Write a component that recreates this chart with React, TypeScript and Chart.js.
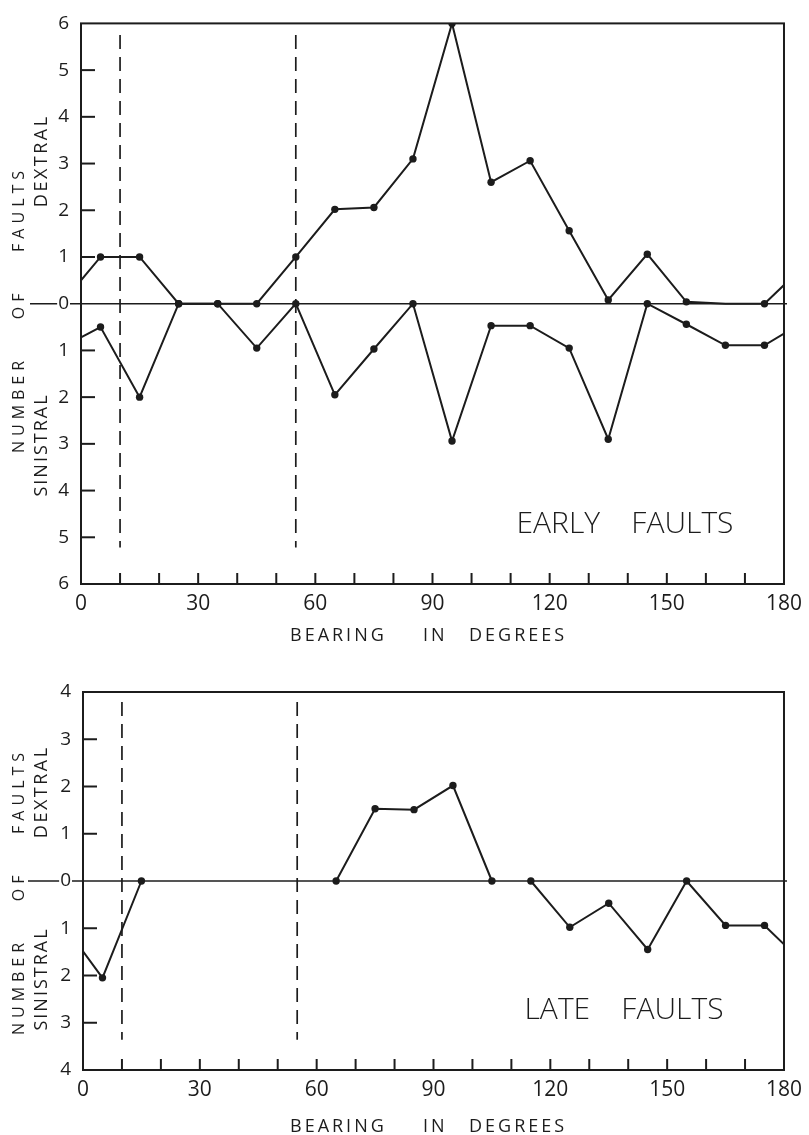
import React, { useEffect, useRef } from "react";
import { Chart, registerables } from "chart.js";

Chart.register(...registerables);

// ---- data ----
const bearings = [0, 5, 15, 25, 35, 45, 55, 65, 75, 85, 95, 105, 115, 125, 135, 145, 155, 165, 175, 180];

// Early faults: dextral (positive) and sinistral (negative, drawn downward)
const earlyDextral = [0.5, 1, 1, 0, 0, 0, 1, 2.02, 2.06, 3.1, 6, 2.6, 3.06, 1.56, 0.08, 1.06, 0.04, 0, 0, 0.4];
const earlySinistral = [-0.72, -0.5, -2, 0, 0, -0.95, 0, -1.95, -0.97, 0, -2.94, -0.47, -0.47, -0.95, -2.9, 0, -0.44, -0.89, -0.89, -0.64];

// Late faults
const lateDextral = [null, null, null, null, null, null, null, 0, 1.53, 1.51, 2.02, 0, null, null, null, null, null, null, null, null];
const lateSinistral = [-1.49, -2.05, 0, null, null, null, null, null, null, null, null, null, 0, -0.98, -0.47, -1.45, 0, -0.94, -0.94, -1.34];

// dashed guide bearings and their vertical extents (in axis units)
const guideBearings = [10, 55];
const earlyGuideSpan = [5.75, -5.22];
const lateGuideSpan = [3.79, -3.36];

const earlyYMax = 6;
const lateYMax = 4;
const xTickLabels = [0, 30, 60, 90, 120, 150, 180];
const xTitleWords = ["BEARING", "IN", "DEGREES"];

// ---- style ----
const FONT = '"Open Sans", "DejaVu Sans", sans-serif';
const INK = "#1c1c1c";
const Y_TICK_SIZE = 19;
const Y_TICK_PAD = 12;
const X_TICK_SIZE = 21;
const X_TITLE_LEFTS = [290, 423, 469];

type PanelCfg = {
  top: number;
  height: number;
  area: { left: number; right: number; top: number; bottom: number };
  yMax: number;
  dextral: (number | null)[];
  sinistral: (number | null)[];
  guideSpan: number[];
  noDotDextral: number[];
  caption: string;
  captionPos: [number, number];
  titleY: number;
  numberY: number;
  dextralY: number;
  sinistralY: number;
  zeroExtStart: number;
};

function drawRotated(ctx: CanvasRenderingContext2D, text: string, x: number, y: number, font: string, spacing: number) {
  ctx.save();
  ctx.translate(x, y);
  ctx.rotate(-Math.PI / 2);
  ctx.font = font;
  (ctx as any).letterSpacing = spacing + "px";
  ctx.textAlign = "center";
  ctx.textBaseline = "middle";
  ctx.fillText(text, spacing / 2, 0);
  ctx.restore();
}

function makeDecor(cfg: PanelCfg) {
  return {
    id: "faultDecor",
    beforeDatasetsDraw(chart: any) {
      const { ctx, chartArea: a, scales } = chart;
      const xs = scales.x;
      const ys = scales.y;
      ctx.save();
      ctx.strokeStyle = INK;
      ctx.lineCap = "butt";
      // zero line
      const y0 = ys.getPixelForValue(0);
      ctx.lineWidth = 1.6;
      ctx.beginPath();
      ctx.moveTo(a.left, y0);
      ctx.lineTo(a.right + 3, y0);
      ctx.stroke();
      ctx.font = `${Y_TICK_SIZE}px ${FONT}`;
      const w = ctx.measureText("0").width;
      const labelRight = a.left - Y_TICK_PAD;
      ctx.beginPath();
      ctx.moveTo(cfg.zeroExtStart, y0);
      ctx.lineTo(labelRight - w - 1, y0);
      ctx.moveTo(labelRight + 1, y0);
      ctx.lineTo(a.left, y0);
      ctx.stroke();
      // frame
      ctx.lineWidth = 2;
      ctx.strokeRect(a.left, a.top, a.right - a.left, a.bottom - a.top);
      // inward ticks, y
      ys.ticks.forEach((t: any) => {
        if (Math.abs(t.value) === cfg.yMax || t.value === 0) return;
        const p = ys.getPixelForValue(t.value);
        ctx.beginPath();
        ctx.moveTo(a.left, p);
        ctx.lineTo(a.left + 14, p);
        ctx.stroke();
      });
      // inward ticks, x
      xs.ticks.forEach((t: any) => {
        if (t.value === 0 || t.value === 180) return;
        const p = xs.getPixelForValue(t.value);
        ctx.beginPath();
        ctx.moveTo(p, a.bottom);
        ctx.lineTo(p, a.bottom - 11);
        ctx.stroke();
      });
      ctx.restore();
    },
    afterDraw(chart: any) {
      const { ctx } = chart;
      ctx.save();
      ctx.fillStyle = INK;
      // x title
      ctx.font = `18px ${FONT}`;
      (ctx as any).letterSpacing = "3px";
      ctx.textAlign = "left";
      ctx.textBaseline = "middle";
      xTitleWords.forEach((word, i) => ctx.fillText(word, X_TITLE_LEFTS[i], cfg.titleY));
      // caption
      ctx.font = `300 30px ${FONT}`;
      (ctx as any).letterSpacing = "0px";
      ctx.textAlign = "center";
      ctx.fillText(cfg.caption, cfg.captionPos[0], cfg.captionPos[1]);
      ctx.restore();
      // y titles
      ctx.save();
      ctx.fillStyle = INK;
      drawRotated(ctx, "NUMBER    OF    FAULTS", 19, cfg.numberY, `16px ${FONT}`, 5);
      drawRotated(ctx, "DEXTRAL", 42, cfg.dextralY, `18px ${FONT}`, 2.5);
      drawRotated(ctx, "SINISTRAL", 42, cfg.sinistralY, `18px ${FONT}`, 2);
      ctx.restore();
    },
  };
}

function Panel({ cfg }: { cfg: PanelCfg }) {
  const ref = useRef<HTMLCanvasElement | null>(null);
  useEffect(() => {
    if (!ref.current) return;
    const dotRadius = (series: (number | null)[], noDot: number[]) => (c: any) => {
      const b = bearings[c.dataIndex];
      if (b === 0 || b === 180 || noDot.includes(b) || series[c.dataIndex] === null) return 0;
      return 3.7;
    };
    const lineDs = (series: (number | null)[], noDot: number[]) => ({
      data: bearings.map((b, i) => ({ x: b, y: series[i] })),
      borderColor: INK,
      borderWidth: 2,
      pointBackgroundColor: INK,
      pointBorderColor: INK,
      pointBorderWidth: 0,
      pointRadius: dotRadius(series, noDot),
      tension: 0,
      spanGaps: false,
    });
    const guides = guideBearings.map((g) => ({
      data: cfg.guideSpan.map((v) => ({ x: g, y: v })),
      borderColor: INK,
      borderWidth: 1.7,
      borderDash: [14, 8],
      pointRadius: 0,
    }));
    const chart = new Chart(ref.current, {
      type: "line",
      data: {
        datasets: [...guides, lineDs(cfg.sinistral, []), lineDs(cfg.dextral, cfg.noDotDextral)] as any,
      },
      options: {
        animation: false,
        responsive: false,
        devicePixelRatio: 1,
        layout: {
          padding: {
            left: 0,
            top: cfg.area.top,
            right: 809 - cfg.area.right,
            bottom: 0,
          },
        },
        plugins: { legend: { display: false }, tooltip: { enabled: false } },
        scales: {
          x: {
            type: "linear",
            min: 0,
            max: 180,
            grid: { display: false, drawTicks: false },
            border: { display: false },
            ticks: {
              stepSize: 10,
              autoSkip: false,
              maxRotation: 0,
              padding: 7,
              color: INK,
              font: { family: FONT, size: X_TICK_SIZE },
              callback: (v: any) => (xTickLabels.includes(Number(v)) ? String(v) : ""),
            },
            afterFit: (s: any) => {
              s.height = cfg.height - cfg.area.bottom;
            },
          },
          y: {
            min: -cfg.yMax,
            max: cfg.yMax,
            grid: { display: false, drawTicks: false },
            border: { display: false },
            ticks: {
              stepSize: 1,
              padding: Y_TICK_PAD,
              color: INK,
              font: { family: FONT, size: Y_TICK_SIZE },
              callback: (v: any) => String(Math.abs(Number(v))),
            },
            afterFit: (s: any) => {
              s.width = cfg.area.left;
            },
          },
        },
      },
      plugins: [makeDecor(cfg)],
    } as any);
    return () => chart.destroy();
  }, [cfg]);
  return (
    <div style={{ position: "absolute", left: 0, top: cfg.top, width: 809, height: cfg.height }}>
      <canvas ref={ref} width={809} height={cfg.height} style={{ display: "block" }} />
    </div>
  );
}

const earlyCfg: PanelCfg = {
  top: 0,
  height: 650,
  area: { left: 81, right: 787, top: 17, bottom: 584 },
  yMax: earlyYMax,
  dextral: earlyDextral,
  sinistral: earlySinistral,
  guideSpan: earlyGuideSpan,
  noDotDextral: [165],
  caption: "EARLY    FAULTS",
  captionPos: [625, 524],
  titleY: 636,
  numberY: 312,
  dextralY: 162,
  sinistralY: 446,
  zeroExtStart: 30,
};

const lateCfg: PanelCfg = {
  top: 650,
  height: 485,
  area: { left: 83, right: 791, top: 42, bottom: 420 },
  yMax: lateYMax,
  dextral: lateDextral,
  sinistral: lateSinistral,
  guideSpan: lateGuideSpan,
  noDotDextral: [],
  caption: "LATE    FAULTS",
  captionPos: [624, 360],
  titleY: 477,
  numberY: 244,
  dextralY: 143,
  sinistralY: 330,
  zeroExtStart: 28,
};

export default function App() {
  return (
    <div style={{ position: "absolute", left: 0, top: 0, width: 809, height: 1135, background: "#fff" }}>
      <Panel cfg={earlyCfg} />
      <Panel cfg={lateCfg} />
    </div>
  );
}
